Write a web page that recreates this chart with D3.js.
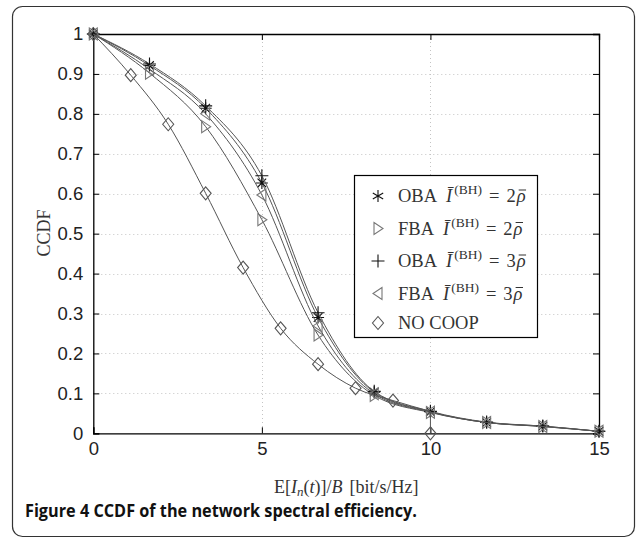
<!DOCTYPE html>
<html><head><meta charset="utf-8">
<script src="https://cdn.jsdelivr.net/npm/d3@7"></script>
<style>html,body{margin:0;padding:0;background:#fff;}svg{display:block;}</style>
</head><body>
<script>
// ---- data ----
const xCoop = [0, 1.667, 3.333, 5, 6.667, 8.333, 10, 11.667, 13.333, 15];
const oba2 = [1, 0.921, 0.814, 0.627, 0.290, 0.103, 0.054, 0.027, 0.018, 0.005];
const fba2 = [1, 0.902, 0.768, 0.535, 0.246, 0.095, 0.052, 0.027, 0.017, 0.005];
const oba3 = [1, 0.925, 0.820, 0.645, 0.302, 0.105, 0.055, 0.028, 0.018, 0.005];
const fba3 = [1, 0.912, 0.800, 0.597, 0.269, 0.099, 0.053, 0.027, 0.017, 0.005];
const xNoCoop = [0, 1.111, 2.222, 3.333, 4.444, 5.556, 6.667, 7.778, 8.889, 10];
const noCoop = [1, 0.897, 0.774, 0.601, 0.415, 0.263, 0.173, 0.113, 0.082, 0];
const noCoopLineEnd = 0.055; // curve value at x=10 before the drop to 0
const xTicks = [0, 5, 10, 15];
const yTicks = [0, 0.1, 0.2, 0.3, 0.4, 0.5, 0.6, 0.7, 0.8, 0.9, 1];
const yTickLabels = ["0", "0.1", "0.2", "0.3", "0.4", "0.5", "0.6", "0.7", "0.8", "0.9", "1"];
const legendNames = ["OBA", "FBA", "OBA", "FBA", "NO COOP"];
const legendFactors = ["2", "2", "3", "3", null];
const caption = ["Figure 4", " CCDF of the network spectral efficiency."];

// ---- layout ----
const W = 637, H = 538;
const svg = d3.select("body").append("svg").attr("width", W).attr("height", H);
svg.append("rect").attr("x", 12.5).attr("y", 6.5).attr("width", 622).attr("height", 530)
  .attr("rx", 10).attr("fill", "#fff").attr("stroke", "#333").attr("stroke-width", 1.2);

const L = 93.3, R = 599, T = 34, B = 433.3;
const x = d3.scaleLinear().domain([0, 15]).range([L, R]);
const y = d3.scaleLinear().domain([0, 1]).range([B, T]);

// grid
const grid = svg.append("g").attr("stroke", "#c4c4c4").attr("stroke-width", 1).attr("stroke-dasharray", "1,3");
grid.selectAll(".gy").data(yTicks.filter(v => v > 0 && v < 1)).join("line")
  .attr("x1", L).attr("x2", R).attr("y1", d => Math.round(y(d)) + 0.5).attr("y2", d => Math.round(y(d)) + 0.5);
grid.selectAll(".gx").data(xTicks.filter(v => v > 0 && v < 15)).join("line")
  .attr("y1", T).attr("y2", B).attr("x1", d => Math.round(x(d)) + 0.5).attr("x2", d => Math.round(x(d)) + 0.5);

// axes (ticks inside, on all sides)
const tk = 6;
const axB = svg.append("g").attr("transform", `translate(0,${B})`)
  .call(d3.axisBottom(x).tickValues(xTicks).tickSize(-tk).tickPadding(tk + 3).tickFormat(d3.format("d")));
const axT = svg.append("g").attr("transform", `translate(0,${T})`)
  .call(d3.axisTop(x).tickValues(xTicks).tickSize(-tk).tickFormat(""));
const axL = svg.append("g").attr("transform", `translate(${L},0)`)
  .call(d3.axisLeft(y).tickValues(yTicks).tickSize(-tk).tickPadding(tk + 4).tickFormat((d, i) => yTickLabels[i]));
const axR = svg.append("g").attr("transform", `translate(${R},0)`)
  .call(d3.axisRight(y).tickValues(yTicks).tickSize(-tk).tickFormat(""));
[axB, axT, axL, axR].forEach(a => {
  a.select(".domain").attr("stroke", "#000").attr("stroke-width", 1.3);
  a.selectAll(".tick line").attr("stroke", "#000").attr("stroke-width", 1);
  a.selectAll("text").attr("fill", "#222").style("font-family", "Liberation Sans, Arial, sans-serif").style("font-size", "18.5px");
});
axB.selectAll("text").attr("dy", "0.71em");

// axis titles
svg.append("text").attr("transform", `translate(50,233) rotate(-90)`).attr("text-anchor", "middle")
  .style("font-family", "Liberation Serif, serif").style("font-size", "18px").attr("fill", "#333").text("CCDF");
const xt = svg.append("text").attr("x", (L + R) / 2).attr("y", 493).attr("text-anchor", "middle")
  .style("font-family", "Liberation Serif, serif").style("font-size", "18px").attr("fill", "#333");
xt.append("tspan").text("E[");
xt.append("tspan").style("font-style", "italic").text("I");
xt.append("tspan").style("font-style", "italic").style("font-size", "13px").attr("dy", 3).text("n");
xt.append("tspan").attr("dy", -3).text("(");
xt.append("tspan").style("font-style", "italic").text("t");
xt.append("tspan").text(")]/");
xt.append("tspan").style("font-style", "italic").text("B");
xt.append("tspan").attr("dx", 7).text("[bit/s/Hz]");

// markers
const mk = {
  ast: "M0,-6V6M-6,0H6M-4.3,-4.3L4.3,4.3M-4.3,4.3L4.3,-4.3",
  plus: "M0,-6.5V6.5M-6.5,0H6.5",
  triR: "M-4,-6L5,0L-4,6Z",
  triL: "M4,-6L-5,0L4,6Z",
  dia: "M0,-6.5L5.5,0L0,6.5L-5.5,0Z"
};
const series = [
  { xs: xCoop, ys: oba2, m: mk.ast, mc: "#111" },
  { xs: xCoop, ys: fba2, m: mk.triR, mc: "#777" },
  { xs: xCoop, ys: oba3, m: mk.plus, mc: "#111" },
  { xs: xCoop, ys: fba3, m: mk.triL, mc: "#777" },
  { xs: xNoCoop, ys: noCoop, m: mk.dia, mc: "#555" }
];
const line = d3.line().x(d => x(d[0])).y(d => y(d[1])).curve(d3.curveMonotoneX);
const plot = svg.append("g");
series.forEach((s, si) => {
  let pts = s.xs.map((v, i) => [v, s.ys[i]]);
  if (si === 4) {
    pts = pts.slice(0, -1).concat([[s.xs[s.xs.length - 1], noCoopLineEnd]]);
    plot.append("line").attr("x1", x(10)).attr("x2", x(10)).attr("y1", y(noCoopLineEnd)).attr("y2", y(0))
      .attr("stroke", "#555").attr("stroke-width", 1);
  }
  plot.append("path").datum(pts).attr("d", line).attr("fill", "none").attr("stroke", "#555").attr("stroke-width", 1);
  plot.append("g").selectAll("path").data(s.xs.map((v, i) => [v, s.ys[i]])).join("path")
    .attr("transform", d => `translate(${x(d[0])},${y(d[1])})`).attr("d", s.m)
    .attr("fill", "none").attr("stroke", s.mc).attr("stroke-width", 1.1);
});

// legend
const legendAst = "M0,-6V6M-5.2,-3L5.2,3M-5.2,3L5.2,-3";
const lg = svg.append("g");
lg.append("rect").attr("x", 354.5).attr("y", 175.5).attr("width", 183).attr("height", 162)
  .attr("fill", "#fff").attr("stroke", "#000").attr("stroke-width", 1.2);
series.forEach((s, i) => {
  const by = 202 + i * 32.5 - (legendFactors[i] ? 0 : 3);
  lg.append("path").attr("transform", `translate(378,${by - 6})`).attr("d", i === 0 ? legendAst : s.m)
    .attr("fill", "none").attr("stroke", s.mc).attr("stroke-width", 1.1);
  const t = lg.append("text").attr("x", 398).attr("y", by).attr("fill", "#333")
    .style("font-family", "Liberation Serif, serif").style("font-size", "18.5px");
  t.append("tspan").text(legendNames[i]);
  if (legendFactors[i]) {
    t.append("tspan").attr("dx", 9).style("font-style", "italic").text("\u012A");
    t.append("tspan").attr("dy", -8).attr("dx", 2).style("font-size", "13.5px").text("(BH)");
    t.append("tspan").attr("dy", 8).attr("dx", 7).text("=");
    t.append("tspan").attr("dx", 7).text(legendFactors[i]);
    t.append("tspan").attr("dx", 1).style("font-style", "italic").text("\u03C1");
    // macron over rho
    const node = t.node();
    const n = node.getNumberOfChars();
    const p0 = node.getStartPositionOfChar(n - 1), p1 = node.getEndPositionOfChar(n - 1);
    lg.append("line").attr("x1", p0.x + 2).attr("x2", p1.x + 0.5).attr("y1", by - 12).attr("y2", by - 12)
      .attr("stroke", "#333").attr("stroke-width", 1);
  }
});

// caption
const cap = svg.append("text").attr("x", 25).attr("y", 517).attr("fill", "#111")
  .style("font-family", "Open Sans, sans-serif").style("font-size", "18px").style("font-weight", "bold")
  .attr("textLength", 392).attr("lengthAdjust", "spacingAndGlyphs");
cap.append("tspan").text(caption[0]);
cap.append("tspan").text(caption[1]);
</script>
</body></html>
